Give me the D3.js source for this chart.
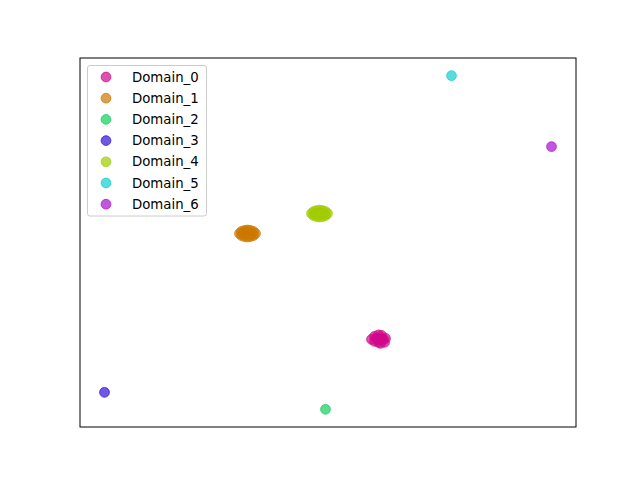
<!DOCTYPE html>
<html><head><meta charset="utf-8">
<script src="https://cdn.jsdelivr.net/npm/d3@7/dist/d3.min.js"></script>
<style>body{margin:0;background:#fff}svg{display:block}text{font-family:"DejaVu Sans",sans-serif}</style>
</head><body><svg id="c" width="640" height="480"></svg>
<script>
const domains = ["Domain_0","Domain_1","Domain_2","Domain_3","Domain_4","Domain_5","Domain_6"];
const colors = ["#d0088a","#cc7700","#0fcf5a","#3310d8","#a0cc00","#10cfcf","#a810d0"];
// points per domain
const d0x = [291,294,294,298,298,301,303,305,304,300,298,296,301];
const d0y = [87,90,85,91.5,84,91,87,88,84,83,87,88,88];
const d1x = [159,161,161,164,164,167,167,170,170,173,173,175,167,164,170];
const d1y = [193,195,191,196,190,196.5,189.5,196,190,195,191,193,193,193,193];
const d2x = [245];
const d2y = [17];
const d3x = [24];
const d3y = [34];
const d4x = [231,233,233,236,236,239,239,242,242,245,245,247,239,236,242];
const d4y = [213,215,211,216,210,216.5,209.5,216,210,215,211,213,213,213,213];
const d5x = [371];
const d5y = [351];
const d6x = [471];
const d6y = [280];
const xs = [d0x,d1x,d2x,d3x,d4x,d5x,d6x];
const ys = [d0y,d1y,d2y,d3y,d4y,d5y,d6y];

const svg = d3.select("#c");
const L=80,R=576,T=58,B=427;
const allX = xs.flat(), allY = ys.flat();
const [x0,x1] = d3.extent(allX), [y0,y1]=d3.extent(allY);
const px=(x1-x0)*0.0548, py=(y1-y0)*0.053;
const x = d3.scaleLinear().domain([x0-px,x1+px]).range([L,R]);
const y = d3.scaleLinear().domain([y0-py,y1+py]).range([B,T]);

domains.forEach((d,i)=>{
  const pts = xs[i].map((v,j)=>[v,ys[i][j]]);
  svg.append("g").selectAll("circle").data(pts).join("circle")
    .attr("cx",p=>x(p[0])).attr("cy",p=>y(p[1])).attr("r",4.9)
    .attr("fill",colors[i]).attr("fill-opacity",0.7)
    .attr("stroke",colors[i]).attr("stroke-opacity",0.7).attr("stroke-width",1);
});
svg.append("rect").attr("x",L).attr("y",T).attr("width",R-L).attr("height",B-T)
  .attr("fill","none").attr("stroke","#000").attr("stroke-width",1);

// legend
const lg = svg.append("g");
lg.append("rect").attr("x",87.5).attr("y",65.5).attr("width",119).attr("height",150.5)
  .attr("rx",2.5).attr("fill","#fff").attr("fill-opacity",0.8).attr("stroke","#cccccc");
domains.forEach((d,i)=>{
  const yy = 77 + i*21.2;
  lg.append("circle").attr("cx",106).attr("cy",yy).attr("r",4.9)
    .attr("fill",colors[i]).attr("fill-opacity",0.7)
    .attr("stroke",colors[i]).attr("stroke-opacity",0.7);
  lg.append("text").attr("x",132).attr("y",yy+4.6).attr("font-size","13.3px").attr("fill","#000").text(d);
});
</script></body></html>
